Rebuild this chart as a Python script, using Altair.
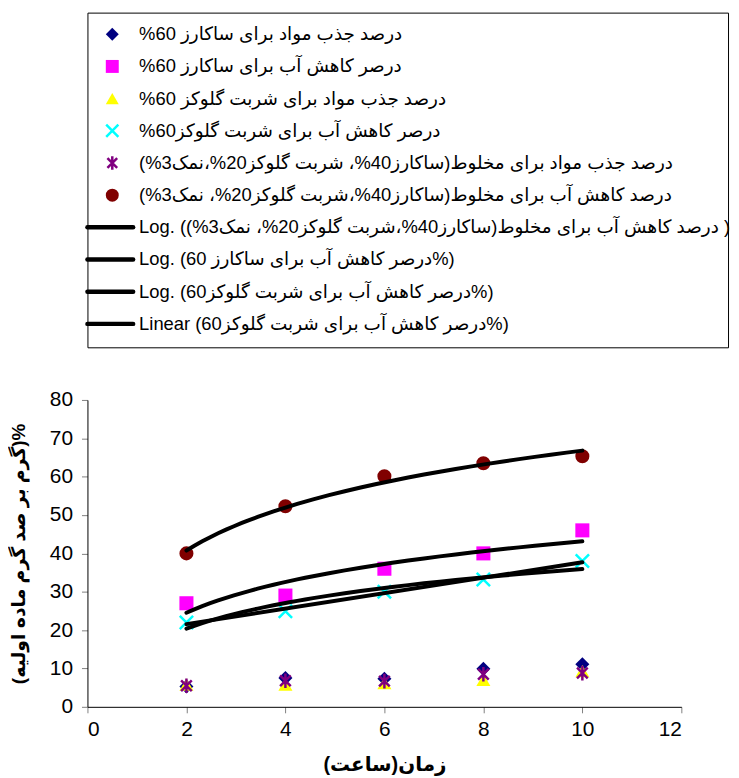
import altair as alt
import pandas as pd

# ---------------- data ----------------
hours = [2, 4, 6, 8, 10]

series_names = [
    "درصد جذب مواد برای ساکارز 60%",
    "درصر کاهش آب برای ساکارز 60%",
    "درصد جذب مواد برای  شربت گلوکز 60%",
    "درصر کاهش آب برای  شربت گلوکز60%",
    "درصد جذب مواد برای مخلوط(ساکارز40%، شربت گلوکز20%،نمک3%)",
    "درصد کاهش آب برای مخلوط(ساکارز40%،شربت گلوکز20%، نمک3%)",
]
sucrose_uptake = [5.3, 7.5, 7.3, 9.9, 11.1]
sucrose_waterloss = [27.0, 29.0, 36.0, 40.0, 46.0]
glucose_uptake = [5.8, 5.8, 6.2, 7.0, 9.3]
glucose_waterloss = [22.0, 24.9, 30.0, 33.2, 38.0]
mix_uptake = [5.5, 6.8, 6.7, 8.5, 8.8]
mix_waterloss = [40.0, 52.3, 60.1, 63.5, 65.3]
series_values = [sucrose_uptake, sucrose_waterloss, glucose_uptake,
                 glucose_waterloss, mix_uptake, mix_waterloss]

series_colors = ["#000080", "#FF00FF", "#FFFF00", "#00FFFF", "#800080", "#800000"]
X_PATH = "M-1,-1L1,1M-1,1L1,-1"
STAR_PATH = "M0,-1.1L0,1.1M-0.8,-0.8L0.8,0.8M-0.8,0.8L0.8,-0.8"
series_shapes = ["diamond", "square", "triangle-up", X_PATH, STAR_PATH, "circle"]
filled_series = [series_names[i] for i in (0, 1, 2, 5)]
stroked_series = [series_names[i] for i in (3, 4)]

trend_labels = [
    "Log. (درصد کاهش آب برای مخلوط(ساکارز40%،شربت گلوکز20%، نمک3%) )",
    "Log. (درصر کاهش آب برای ساکارز 60%)",
    "Log. (درصر کاهش آب برای  شربت گلوکز60%)",
    "Linear (درصر کاهش آب برای  شربت گلوکز60%)",
]
trend_series = [series_names[5], series_names[1], series_names[3], series_names[3]]
trend_methods = ["log", "log", "log", "linear"]

x_ticks = [0, 2, 4, 6, 8, 10, 12]
y_ticks = [0, 10, 20, 30, 40, 50, 60, 70, 80]
x_title = "زمان(ساعت)"
y_title = "(گرم بر صد گرم ماده اولیه)%"

FONT = "Liberation Sans, Arial, DejaVu Sans"
RLM = "\u200f"  # right-to-left mark: series names are shown as right-to-left text

rows = []
for name, vals in zip(series_names, series_values):
    for h, v in zip(hours, vals):
        rows.append({"series": name, "hours": h, "value": v})
df = pd.DataFrame(rows)

shape_scale = alt.Scale(domain=series_names, range=series_shapes)
color_scale = alt.Scale(domain=series_names, range=series_colors)

xaxis = alt.Axis(values=x_ticks, title=x_title, grid=False, labelOverlap=False,
                 tickSize=6, tickColor="#808080", domainColor="black",
                 labelFontSize=21, labelFont=FONT, labelColor="black",
                 labelPadding=6, titleFontSize=20, titleFont=FONT,
                 titleFontWeight="bold", titleColor="black", titlePadding=15)
yaxis = alt.Axis(values=y_ticks, title=y_title, grid=False, labelOverlap=False,
                 tickCount=9, tickSize=6, tickColor="#808080", domainColor="black",
                 labelFontSize=21, labelFont=FONT, labelColor="black",
                 labelPadding=9, titleFontSize=19, titleFont=FONT,
                 titleFontWeight="bold", titleColor="black", titlePadding=21)
xenc = alt.X("hours:Q", scale=alt.Scale(domain=[0, 12], nice=False), axis=xaxis)
yenc = alt.Y("value:Q", scale=alt.Scale(domain=[0, 80], nice=False), axis=yaxis)

base = alt.Chart(df)
pts_filled = base.transform_filter(
    alt.FieldOneOfPredicate(field="series", oneOf=filled_series)
).mark_point(filled=True, opacity=1, size=200).encode(
    x=xenc, y=yenc,
    shape=alt.Shape("series:N", scale=shape_scale, legend=None),
    color=alt.Color("series:N", scale=color_scale, legend=None),
)
pts_stroked = base.transform_filter(
    alt.FieldOneOfPredicate(field="series", oneOf=stroked_series)
).mark_point(filled=False, opacity=1, size=180, strokeWidth=2.5).encode(
    x=xenc, y=yenc,
    shape=alt.Shape("series:N", scale=shape_scale, legend=None),
    color=alt.Color("series:N", scale=color_scale, legend=None),
)
trend_layers = []
for s, m in zip(trend_series, trend_methods):
    trend_layers.append(
        base.transform_filter(alt.datum.series == s)
        .transform_regression("hours", "value", method=m, extent=[2, 10])
        .mark_line(color="black", strokeWidth=4, strokeCap="round")
        .encode(x=xenc, y=yenc)
    )

main = alt.layer(pts_filled, pts_stroked, *trend_layers).properties(width=598, height=309)

# ---------------- legend panel ----------------
leg_rows = []
for i, name in enumerate(series_names):
    leg_rows.append({"row": i, "label": name + RLM, "series": name,
                     "kind": "filled" if name in filled_series else "stroked"})
for j, lab in enumerate(trend_labels):
    leg_rows.append({"row": 6 + j, "label": lab, "series": "", "kind": "line"})
leg_df = pd.DataFrame(leg_rows)

yleg = alt.Y("row:O", axis=None, scale=alt.Scale(type="point", padding=0.7, align=0.48))
lbase = alt.Chart(leg_df)
leg_filled = lbase.transform_filter(alt.datum.kind == "filled").mark_point(
    filled=True, opacity=1, size=170).encode(
    x=alt.value(25), y=yleg,
    shape=alt.Shape("series:N", scale=shape_scale, legend=None),
    color=alt.Color("series:N", scale=color_scale, legend=None))
leg_stroked = lbase.transform_filter(alt.datum.kind == "stroked").mark_point(
    filled=False, opacity=1, size=150, strokeWidth=2.5).encode(
    x=alt.value(25), y="row:O",
    shape=alt.Shape("series:N", scale=shape_scale, legend=None),
    color=alt.Color("series:N", scale=color_scale, legend=None))
leg_lines = lbase.transform_filter(alt.datum.kind == "line").mark_point(
    shape="stroke", filled=False, opacity=1, size=2116, strokeWidth=4.5,
    color="black", strokeCap="round").encode(x=alt.value(23), y="row:O")
leg_text = lbase.mark_text(align="left", baseline="middle", fontSize=18.5,
                           font=FONT, color="black").encode(
    x=alt.value(52), y="row:O", text="label:N")

legend_panel = alt.layer(leg_filled, leg_stroked, leg_lines, leg_text).properties(
    width=645, height=337,
    view=alt.ViewBackground(stroke="black", strokeWidth=1))

chart = alt.vconcat(legend_panel, main, spacing=53, bounds="flush").properties(
    padding={"left": 1, "top": 1, "right": 0, "bottom": 0}
).configure_view(strokeWidth=0).configure_axis(
    domainWidth=1, tickWidth=1, labelOverlap=False)

chart.save("out.html", embed_options={"renderer": "svg", "actions": False})
